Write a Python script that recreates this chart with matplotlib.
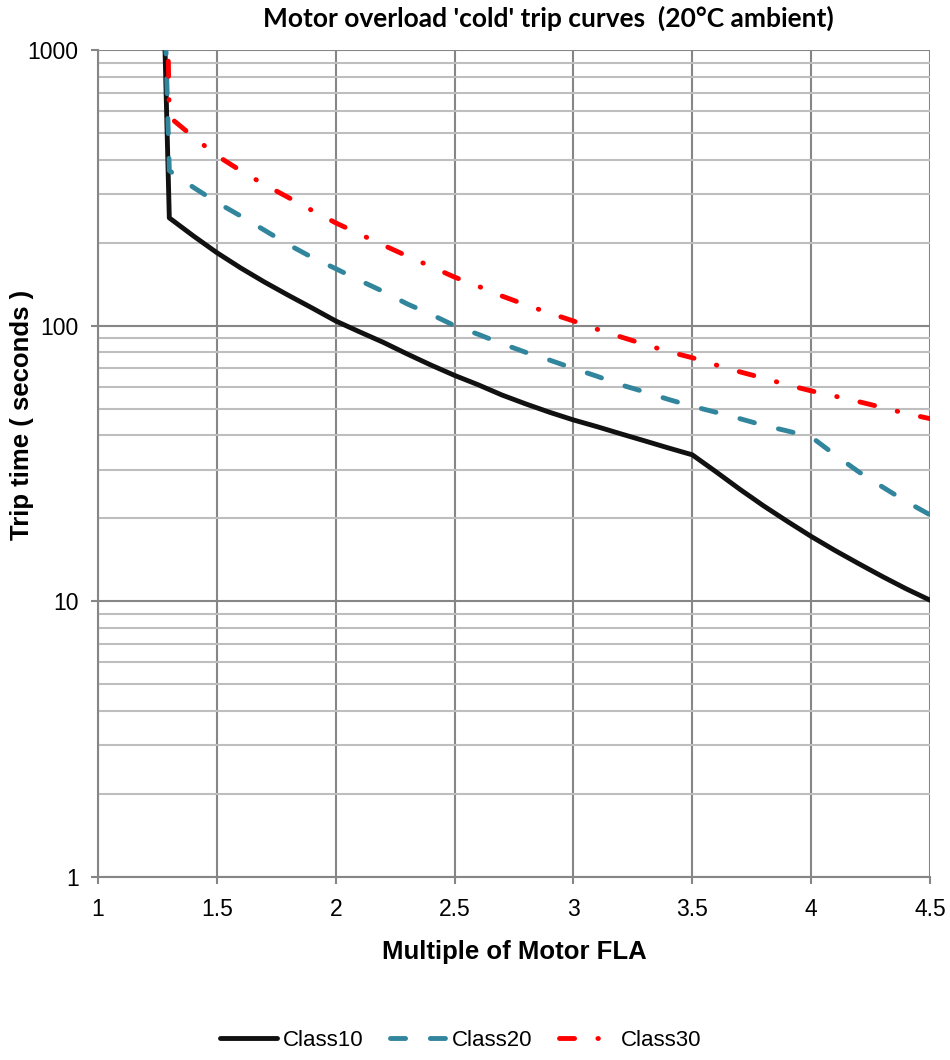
import matplotlib
matplotlib.use("Agg")
import matplotlib.pyplot as plt
from matplotlib.ticker import LogLocator, FixedLocator, NullFormatter, FuncFormatter

# ---- data ----
fla = [1.25, 1.3, 1.4, 1.5, 1.6, 1.7, 1.8, 1.9, 2.0, 2.1, 2.2, 2.3, 2.4, 2.5,
       2.6, 2.7, 2.8, 2.9, 3.0, 3.1, 3.2, 3.3, 3.4, 3.5, 3.6, 3.7, 3.8, 3.9,
       4.0, 4.1, 4.2, 4.3, 4.4, 4.5]
class10 = [12000, 246, 212, 184, 162, 144, 129, 116, 104, 95, 87, 79, 72, 66,
           61, 56, 52, 48.5, 45.5, 43, 40.5, 38.2, 36, 34, 29.5, 25.5, 22.2, 19.5,
           17.2, 15.3, 13.7, 12.3, 11.1, 10.1]
class20 = [13000, 365, 318, 280, 250, 222, 197, 177, 161, 146, 133, 120, 110, 100,
           93, 86, 80, 75, 70, 65.5, 61, 57.5, 54, 51, 48.5, 46, 43.5, 41.5,
           39.5, 34, 29.5, 26, 23, 20.6]
class30 = [160000, 572, 485, 414, 365, 325, 292, 262, 236, 215, 196, 179, 164, 150,
           139, 128, 119, 111, 104, 97, 91, 85.5, 80.5, 76.5, 72, 68, 64.5, 61,
           58, 55.5, 53, 50.5, 48, 46]
series_names = ["Class10", "Class20", "Class30"]
x_ticks = [1, 1.5, 2, 2.5, 3, 3.5, 4, 4.5]
y_ticks = [1, 10, 100, 1000]

title = "Motor overload 'cold' trip curves  (20\u00b0C ambient)"
xlabel = "Multiple of Motor FLA"
ylabel = "Trip time ( seconds )"

# ---- figure ----
fig = plt.figure(figsize=(9.5, 10.6), dpi=100)
ax = fig.add_axes([98/950, 1-877/1060, (930-98)/950, (877-50)/1060])

major_c = "#868686"
minor_c = "#BEBEBE"

ax.set_yscale("log")
ax.set_xlim(1, 4.5)
ax.set_ylim(1, 1000)

ax.xaxis.set_major_locator(FixedLocator(x_ticks))
ax.yaxis.set_major_locator(FixedLocator(y_ticks))
ax.yaxis.set_minor_locator(LogLocator(base=10, subs=range(2, 10)))
ax.yaxis.set_minor_formatter(NullFormatter())
ax.xaxis.set_major_formatter(FuncFormatter(lambda v, p: f"{v:g}"))
ax.yaxis.set_major_formatter(FuncFormatter(lambda v, p: f"{v:g}"))

ax.grid(True, which="major", axis="both", color=major_c, lw=1.5, zorder=0)
ax.grid(True, which="minor", axis="y", color=minor_c, lw=1.5, zorder=0)
ax.set_axisbelow(True)

for s in ["top", "right"]:
    ax.spines[s].set_visible(False)
for s in ["left", "bottom"]:
    ax.spines[s].set_color(major_c)
    ax.spines[s].set_linewidth(1.5)

ax.tick_params(which="major", direction="out", length=5, width=1.5,
               color=major_c, labelsize=16.5)
ax.tick_params(axis="x", pad=10)
ax.tick_params(axis="y", pad=9)
ax.tick_params(which="minor", length=0)
for lab in ax.get_xticklabels() + ax.get_yticklabels():
    lab.set_fontfamily("Liberation Sans")

lw = 3.5
l1, = ax.plot(fla, class10, color="#111111", lw=lw, solid_capstyle="round",
              solid_joinstyle="round", label=series_names[0], zorder=3)
l2, = ax.plot(fla, class20, color="#31859C", lw=lw, dash_capstyle="round",
              dashes=(3.1, 5.1), label=series_names[1], zorder=3)
l3, = ax.plot(fla, class30, color="#FF0000", lw=lw, dash_capstyle="round",
              dashes=(3.1, 4.8, 0.1, 4.8), label=series_names[2], zorder=3)

fig.text(548/950, 1-18/1060, title, ha="center", va="center",
         fontsize=19, fontweight="bold", family="Lato")
ax.set_xlabel(xlabel, fontsize=18.5, fontweight="bold", family="Liberation Sans",
              labelpad=14)
ax.set_ylabel(ylabel, fontsize=18.5, fontweight="bold", family="Liberation Sans")
ax.yaxis.set_label_coords((22-98)/832, (877-415)/827)
ax.yaxis.label.set_va("center")

leg = fig.legend(handles=[l1, l2, l3], loc="center", bbox_to_anchor=(461/950, 1-1040/1060),
                 ncol=3, frameon=False, handlelength=2.55, handletextpad=0.25,
                 columnspacing=1.2, prop={"family": "Liberation Sans", "size": 16})

fig.savefig("out.png", dpi=100)
